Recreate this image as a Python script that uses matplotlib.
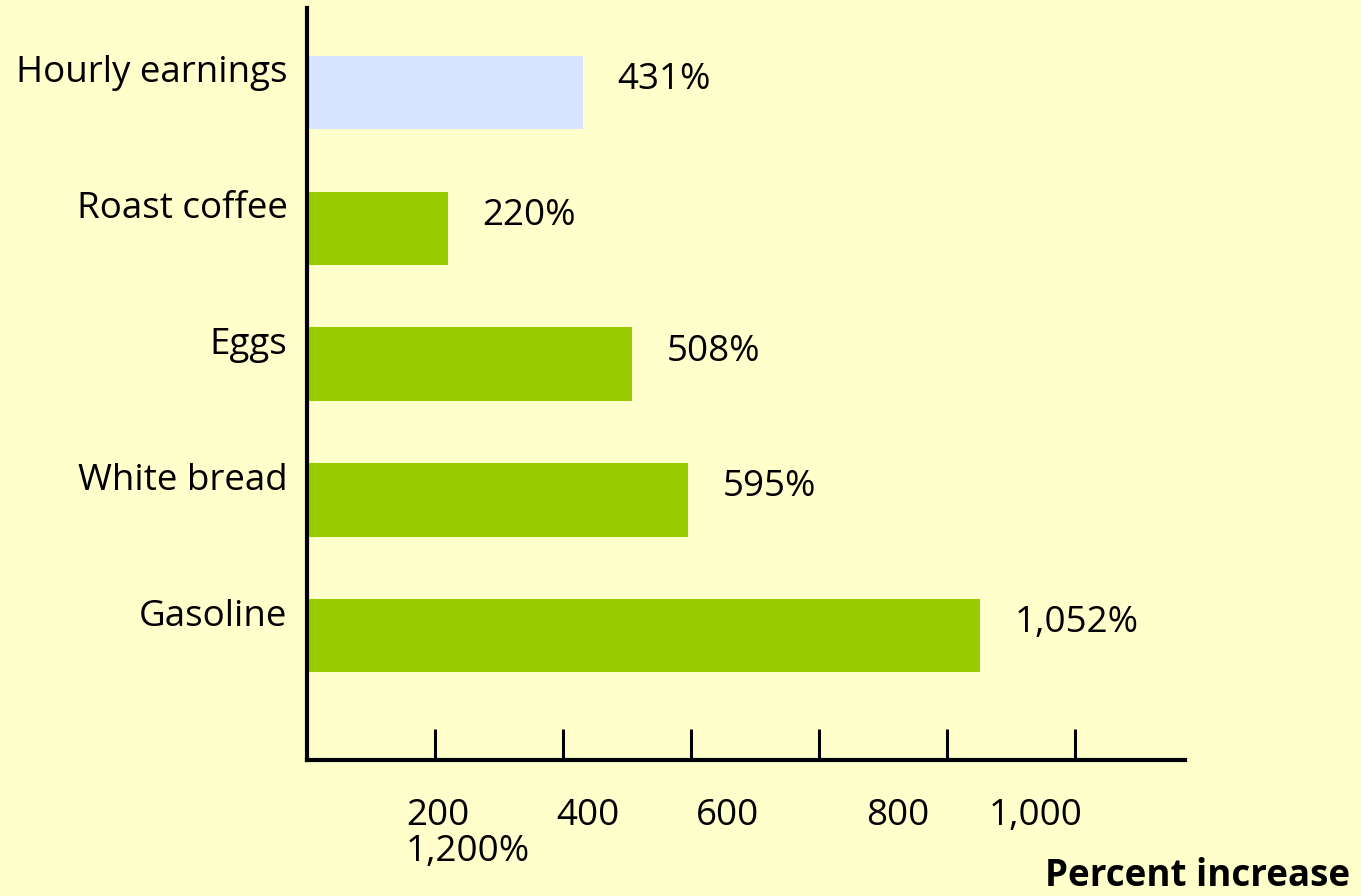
import matplotlib.pyplot as plt

plt.rcParams["font.family"] = ["Open Sans", "DejaVu Sans"]

categories = ["Hourly earnings", "Roast coffee", "Eggs", "White bread", "Gasoline"]
values = [431, 220, 508, 595, 1052]
value_labels = ["431%", "220%", "508%", "595%", "1,052%"]
bar_colors = ["#D6E4FF", "#99CC00", "#99CC00", "#99CC00", "#99CC00"]

tick_values = [200, 400, 600, 800, 1000, 1200]
tick_labels = ["200", "400", "600", "800", "1,000", "1,200%"]
# where the tick labels got flowed to (left edges, data units)
tick_label_x = [155, 389, 608, 873, 1066, 155]
tick_label_row = [0, 0, 0, 0, 0, 1]

bg = "#FFFFCC"
fs = 26.5

fig = plt.figure(figsize=(13.61, 8.96), dpi=100, facecolor=bg)
ax = fig.add_axes([307 / 1361, 136 / 896, 878 / 1361, 752 / 896])
ax.set_facecolor(bg)

pos = list(range(len(categories)))
ax.barh(pos, values, height=0.537, color=bar_colors)

for i, (v, lab) in enumerate(zip(values, value_labels)):
    ax.annotate(lab, xy=(v, i), xytext=(25, 9), textcoords="offset points",
                ha="left", va="center", fontsize=fs)

for i, cat in enumerate(categories):
    ax.annotate(cat, xy=(0, i), xycoords=("axes fraction", "data"),
                xytext=(-14, 14), textcoords="offset points",
                ha="right", va="center", fontsize=fs)

ax.set_xlim(0, 1372)
ax.set_ylim(4.912, -0.618)

for s in ["top", "right"]:
    ax.spines[s].set_visible(False)
for s in ["left", "bottom"]:
    ax.spines[s].set_linewidth(3)
    ax.spines[s].set_color("black")

ax.set_xticks(tick_values)
ax.tick_params(axis="x", direction="in", length=22, width=2.2,
               labelbottom=False, color="black")
ax.set_yticks([])

for x, lab, row in zip(tick_label_x, tick_labels, tick_label_row):
    ax.annotate(lab, xy=(x, 0), xycoords=("data", "axes fraction"),
                xytext=(0, -40 - row * 26), textcoords="offset points",
                ha="left", va="center", fontsize=fs)

fig.text(1350 / 1361, 1 - 876 / 896, "Percent increase", ha="right",
         va="center", fontsize=fs, fontweight="bold")

fig.savefig("out.png", dpi=100, facecolor=bg)
